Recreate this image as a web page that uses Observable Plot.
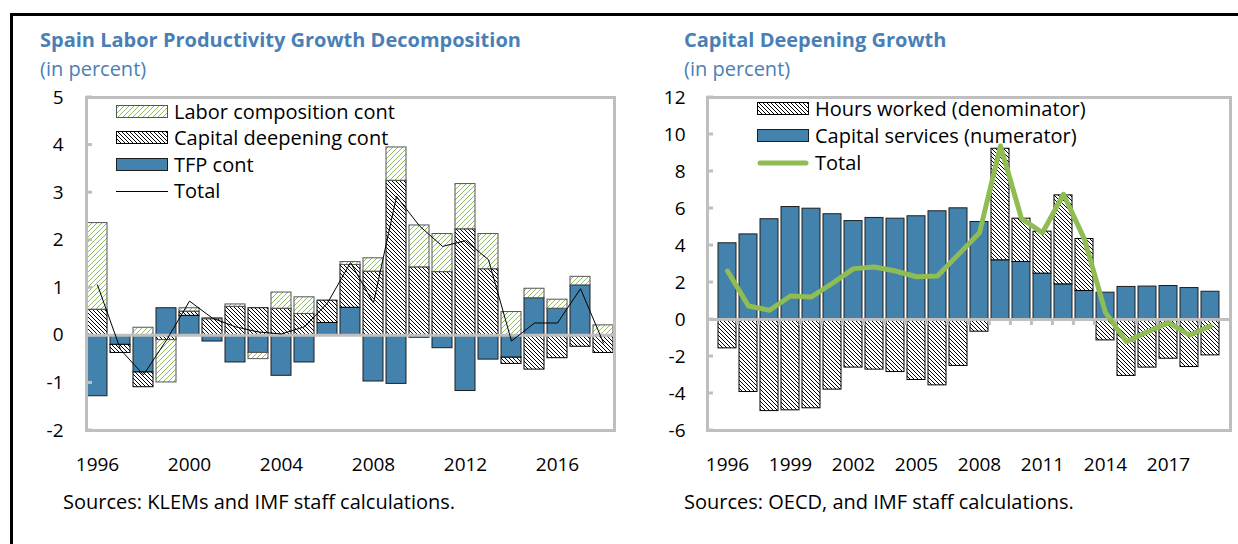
<!DOCTYPE html>
<html><head><meta charset="utf-8">
<script src="https://cdn.jsdelivr.net/npm/d3@7"></script>
<script src="https://cdn.jsdelivr.net/npm/@observablehq/plot@0.6"></script>
<style>
body{margin:0;background:#fff;font-family:"Open Sans",sans-serif;}
#root{position:relative;width:1238px;height:544px;overflow:hidden;background:#fff;}
.border{position:absolute;left:10px;top:13px;width:1400px;height:700px;border-left:3px solid #000;border-top:3px solid #000;}
.title{position:absolute;font-weight:700;font-size:20px;color:#4a7fb5;white-space:nowrap;line-height:1;}
.sub{position:absolute;font-size:20px;color:#4a7fb5;white-space:nowrap;line-height:1;}
.cap{position:absolute;font-size:20px;color:#000;white-space:nowrap;line-height:1;}
.chart{position:absolute;}
.leg{position:absolute;font-size:20px;display:flex;align-items:center;white-space:nowrap;line-height:1;color:#000;}
.leg svg{margin-right:6px;}
</style></head>
<body>
<svg width="0" height="0" style="position:absolute">
  <defs>
    <pattern id="hatchK" patternUnits="userSpaceOnUse" width="4" height="4">
      <rect width="4" height="4" fill="#fff"/>
      <path d="M0,0L4,4M-1,3L1,5M3,-1L5,1" stroke="#000" stroke-width="1"/>
    </pattern>
    <pattern id="hatchG" patternUnits="userSpaceOnUse" width="5" height="5">
      <rect width="5" height="5" fill="#fff"/>
      <path d="M0,5L5,0M-1,1L1,-1M4,6L6,4" stroke="#8fbf5a" stroke-width="1"/>
    </pattern>
  </defs>
</svg>
<div id="root">
  <div class="border"></div>
  <div class="title" style="left:40px;top:29.5px">Spain Labor Productivity Growth Decomposition</div>
  <div class="sub" style="left:40px;top:59px">(in percent)</div>
  <div class="title" style="left:684px;top:29.5px">Capital Deepening Growth</div>
  <div class="sub" style="left:684px;top:59px">(in percent)</div>
  <div class="cap" style="left:63px;top:492px">Sources: KLEMs and IMF staff calculations.</div>
  <div class="cap" style="left:684px;top:492px">Sources: OECD, and IMF staff calculations.</div>
  <div id="leftChart" class="chart" style="left:20px;top:85px"></div>
  <div id="rightChart" class="chart" style="left:640px;top:85px"></div>
</div>
<script>
// ---------- Left chart data ----------
const leftYears = [1996,1997,1998,1999,2000,2001,2002,2003,2004,2005,2006,2007,2008,2009,2010,2011,2012,2013,2014,2015,2016,2017,2018];
const tfpCont = [-1.28,-0.20,-0.78,0.57,0.41,-0.13,-0.57,-0.37,-0.85,-0.57,0.26,0.58,-0.97,-1.02,-0.05,-0.27,-1.17,-0.51,-0.47,0.78,0.56,1.05,0];
const capitalCont = [0.54,-0.17,-0.31,-0.10,0.09,0.34,0.60,0.57,0.56,0.45,0.47,0.90,1.34,3.25,1.43,1.33,2.23,1.39,-0.13,-0.72,-0.48,-0.24,-0.37];
const laborCont = [1.82,0,0.16,-0.89,0.07,0.02,0.05,-0.13,0.34,0.35,0,0.06,0.28,0.70,0.88,0.80,0.95,0.74,0.49,0.20,0.19,0.18,0.21];
const leftTotal = [1.06,-0.30,-0.83,-0.10,0.72,0.36,0.18,0.07,0.03,0.18,0.68,1.53,0.68,2.92,2.30,1.87,1.99,1.59,-0.12,0.26,0.26,0.98,-0.16];
const leftYTicks = [-2,-1,0,1,2,3,4,5];
const leftXTicks = [1996,2000,2004,2008,2012,2016];
const leftLegend = ["Labor composition cont","Capital deepening cont","TFP cont","Total"];

// ---------- Right chart data ----------
const rightYears = [1996,1997,1998,1999,2000,2001,2002,2003,2004,2005,2006,2007,2008,2009,2010,2011,2012,2013,2014,2015,2016,2017,2018,2019];
const capitalServices = [4.12,4.60,5.42,6.08,5.99,5.69,5.32,5.49,5.45,5.58,5.85,6.01,5.27,3.20,3.11,2.48,1.90,1.54,1.45,1.76,1.78,1.81,1.70,1.50];
const hoursWorked = [-1.56,-3.92,-4.95,-4.91,-4.80,-3.79,-2.60,-2.71,-2.84,-3.27,-3.56,-2.51,-0.66,6.03,2.34,2.27,4.81,2.81,-1.13,-3.05,-2.60,-2.12,-2.57,-1.94];
const rightTotal = [2.62,0.73,0.50,1.27,1.22,1.96,2.75,2.84,2.62,2.31,2.35,3.52,4.69,9.38,5.45,4.69,6.77,4.33,0.37,-1.20,-0.66,-0.17,-0.85,-0.35];
const rightYTicks = [-6,-4,-2,0,2,4,6,8,10,12];
const rightXTicks = [1996,1999,2002,2005,2008,2011,2014,2017];
const rightLegend = ["Hours worked (denominator)","Capital services (numerator)","Total"];

// ---------- styles ----------
const BLUE = "#4282ad", GREEN = "#8fbc53", GRAY = "#bfbfbf";

function stackSeries(years, list) {
  const out = list.map(() => []);
  years.forEach((yr, i) => {
    let pos = 0, neg = 0;
    list.forEach((vals, k) => {
      const v = vals[i];
      if (v >= 0) { out[k].push({year: yr, y1: pos, y2: pos + v}); pos += v; }
      else { out[k].push({year: yr, y1: neg, y2: neg + v}); neg += v; }
    });
  });
  return out;
}

function yTickMark(ticks, len) {
  return (index, scales, values, dims) => {
    const g = d3.create("svg:g").attr("stroke", GRAY).attr("stroke-width", 3);
    for (const t of ticks) {
      const y = scales.y(t);
      g.append("line").attr("x1", dims.marginLeft).attr("x2", dims.marginLeft + len).attr("y1", y).attr("y2", y);
    }
    return g.node();
  };
}
function catTickMark(years, pi, len) {
  return (index, scales, values, dims) => {
    const g = d3.create("svg:g").attr("stroke", GRAY).attr("stroke-width", 3);
    const step = scales.x(years[1]) - scales.x(years[0]);
    const y0 = scales.y(0);
    for (let i = 0; i < years.length - 1; i++) {
      const x = scales.x(years[i]) + step * (1 - pi / 2);
      g.append("line").attr("x1", x).attr("x2", x).attr("y1", y0).attr("y2", y0 + len);
    }
    return g.node();
  };
}

const baseStyle = {fontFamily: "Open Sans", fontSize: "19px", color: "#000", background: "transparent", overflow: "visible"};

// ---------- Left plot ----------
const [sTfp, sCap, sLab] = stackSeries(leftYears, [tfpCont, capitalCont, laborCont]);
const leftRows = leftYears.map((year, i) => ({year, total: leftTotal[i]}));
const leftPlot = Plot.plot({
  width: 620, height: 400,
  marginLeft: 66, marginTop: 12, marginBottom: 55, marginRight: 26,
  style: baseStyle,
  x: {type: "band", domain: leftYears, paddingInner: 0.15, paddingOuter: 0.05, label: null},
  y: {domain: [-2, 5], label: null},
  marks: [
    Plot.barY(sTfp, {x: "year", y1: "y1", y2: "y2", fill: BLUE, stroke: "#1e1e1e", strokeWidth: 1}),
    Plot.barY(sCap, {x: "year", y1: "y1", y2: "y2", fill: "url(#hatchK)", stroke: "#000", strokeWidth: 1}),
    Plot.barY(sLab, {x: "year", y1: "y1", y2: "y2", fill: "url(#hatchG)", stroke: "#555", strokeWidth: 1}),
    Plot.ruleY([0], {stroke: GRAY, strokeWidth: 3}),
    Plot.line(leftRows, {x: "year", y: "total", stroke: "#000", strokeWidth: 1}),
    Plot.frame({stroke: GRAY, strokeWidth: 3}),
    yTickMark(leftYTicks, 6),
    Plot.axisY({ticks: leftYTicks, tickSize: 0, tickPadding: 23, tickFormat: d => String(d)}),
    Plot.axisX({ticks: leftXTicks, tickSize: 0, tickPadding: 27, tickFormat: d => String(d)})
  ]
});
document.getElementById("leftChart").appendChild(leftPlot);

// ---------- Right plot ----------
const [sCs, sHw] = stackSeries(rightYears, [capitalServices, hoursWorked]);
const rightRows = rightYears.map((year, i) => ({year, total: rightTotal[i]}));
const rightPlot = Plot.plot({
  width: 598, height: 400,
  marginLeft: 67, marginTop: 12, marginBottom: 55, marginRight: 8,
  style: baseStyle,
  x: {type: "band", domain: rightYears, paddingInner: 0.15, paddingOuter: 0.03, label: null},
  y: {domain: [-6, 12], label: null},
  marks: [
    Plot.barY(sCs, {x: "year", y1: "y1", y2: "y2", fill: BLUE, stroke: "#1e1e1e", strokeWidth: 1}),
    Plot.barY(sHw, {x: "year", y1: "y1", y2: "y2", fill: "url(#hatchK)", stroke: "#000", strokeWidth: 1}),
    Plot.ruleY([0], {stroke: GRAY, strokeWidth: 3}),
    catTickMark(rightYears, 0.15, 6),
    Plot.line(rightRows, {x: "year", y: "total", stroke: GREEN, strokeWidth: 5, strokeLinejoin: "round", strokeLinecap: "round"}),
    Plot.frame({stroke: GRAY, strokeWidth: 3}),
    yTickMark(rightYTicks, 6),
    Plot.axisY({ticks: rightYTicks, tickSize: 0, tickPadding: 22, tickFormat: d => String(d)}),
    Plot.axisX({ticks: rightXTicks, tickSize: 0, tickPadding: 27, tickFormat: d => String(d)})
  ]
});
document.getElementById("rightChart").appendChild(rightPlot);

// ---------- Legends ----------
const root = document.getElementById("root");
function swatch(kind) {
  const s = d3.create("svg").attr("width", 52).attr("height", 16);
  if (kind === "line") s.append("line").attr("x1", 0).attr("x2", 52).attr("y1", 8.5).attr("y2", 8.5).attr("stroke", "#000").attr("stroke-width", 1);
  else if (kind === "gline") s.append("line").attr("x1", 3).attr("x2", 49).attr("y1", 8).attr("y2", 8).attr("stroke", GREEN).attr("stroke-width", 5).attr("stroke-linecap", "round");
  else s.append("rect").attr("x", 0.5).attr("y", 1.5).attr("width", 51).attr("height", 12).attr("fill", kind.fill).attr("stroke", kind.stroke);
  return s.node();
}
function addLegend(x, y0, dy, labels, kinds) {
  labels.forEach((lab, i) => {
    const d = document.createElement("div");
    d.className = "leg";
    d.style.left = x + "px";
    d.style.top = (y0 + i * dy - 10) + "px";
    d.appendChild(swatch(kinds[i]));
    const t = document.createElement("span");
    t.textContent = lab;
    d.appendChild(t);
    root.appendChild(d);
  });
}
addLegend(116, 112, 26.3, leftLegend, [
  {fill: "url(#hatchG)", stroke: "#555"}, {fill: "url(#hatchK)", stroke: "#000"}, {fill: BLUE, stroke: "#1e1e1e"}, "line"]);
addLegend(757, 108.5, 27.2, rightLegend, [
  {fill: "url(#hatchK)", stroke: "#000"}, {fill: BLUE, stroke: "#1e1e1e"}, "gline"]);
</script>
</body></html>
